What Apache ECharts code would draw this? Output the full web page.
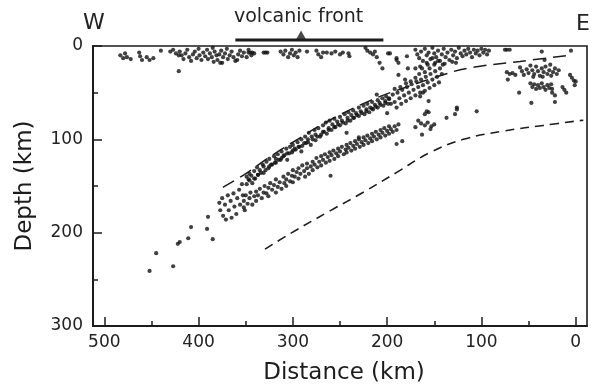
<!DOCTYPE html>
<html>
<head>
<meta charset="utf-8">
<script src="https://cdn.jsdelivr.net/npm/echarts@6/dist/echarts.min.js"></script>
<style>html,body{margin:0;padding:0;background:#fff}#c{width:597px;height:390px}</style>
</head>
<body>
<div id="c"></div>
<script>
// ---- data: [distance km, depth km] ----
const shallowBand = [
[483,10],[480,13],[478,8],[476,12],[472,14],[463,7],[462,11],[460,15],[455,12],[452,15],[448,13],[440,5],[430,6],[427,4],[424,8],[421,10],[421,27],
[420,6],[418,10],[416,14],[414,8],[412,4],[410,12],[408,16],[406,9],[404,6],[402,13],[400,3],[399,10],[397,15],[395,7],[393,11],[391,4],[390,14],[388,8],[386,12],[385,2],[383,6],[381,10],[380,15],[378,9],[376,5],[374,12],[372,8],[370,3],[369,14],[367,10],[365,6],[363,12],[361,16],[358,9],[356,5],[354,11],[352,7],[349,12],[347,4],[344,10],[341,8],[377,18],[384,17],[375,18],[359,15],
[347,7],[345,7],[343,7],[331,7],[329,7],[327,7],
[313,6],[310,9],[308,5],[305,12],[303,8],[301,4],[299,10],[297,7],[295,12],[293,5],
[285,6],[275,5],[273,9],[270,12],[268,7],[264,7],[259,8],[255,6],[250,9],[247,7],[241,8],[240,11],
[223,2],[221,5],[218,7],[215,9],[213,6],[199,8],[190,13],[188,18],[179,11],
[170,4],[168,9],[166,13],[164,6],[162,16],[160,3],[158,10],[156,7],[154,14],[152,2],[150,8],[148,12],[146,5],[144,16],[142,9],[140,3],[138,12],[136,7],[134,15],[132,4],[130,10],[128,6],[126,13],[124,2],[122,8],[120,11],[118,5],[116,9],[114,3],[112,7],[110,12],[108,4],[106,8],[104,5],[102,10],[100,3],[98,7],[96,4],[94,9],[92,5],[149,18],[139,19],[131,17],[157,20],[165,22],[127,18],
[73,4],[75,4],[70,4],[36,6],[33,15],[5,5]
];
const upperSlab = [
[378,168],[377,176],[375,163],[374,182],[372,170],[371,186],[369,160],[368,176],[366,166],[365,184],[363,158],[362,172],[360,180],[359,163],[357,154],[356,170],[354,148],[353,160],[351,176],
[349,140],[349,148],[347,143],[346,144],[346,137],[344,139],[343,147],[341,134],[341,142],[340,142],[338,130],[337,138],[337,138],[335,133],[334,136],[332,127],[331,136],[331,129],[329,133],[328,124],[326,131],[325,121],[325,129],[323,127],[322,127],[320,118],[319,125],[318,125],[318,121],[316,116],[315,122],[313,122],[312,113],[312,120],[310,118],[309,117],[307,110],[306,115],[306,122],[304,115],[303,108],[301,114],[300,112],[300,106],[298,110],[297,111],[295,103],[294,108],[293,108],[291,100],[291,113],[290,107],[288,104],[287,97],[286,104],[284,103],[284,100],[283,93],[281,106],[280,97],[279,100],[277,90],[276,101],[276,95],[274,97],[273,88],[271,97],[270,95],[268,85],[268,92],[267,92],[265,82],[264,94],[262,88],[262,90],[261,80],[259,90],[258,84],[256,87],[256,78],[255,87],[253,81],[252,84],[250,76],[250,85],[248,80],[247,82],[245,73],[244,83],[242,77],[242,80],[241,71],[239,80],[238,74],[236,77],[236,69],[235,77],[233,72],[232,74],[230,66],[230,75],[228,70],[227,72],[225,64],[224,73],[222,68],[222,70],[221,62],[219,71],[218,66],[216,67],[216,60],[215,68],[213,63],[212,65],[210,58],[210,66],[208,61],[207,63],[205,56],[204,64],[202,59],[202,61],[201,54],[199,62],[198,57],
[230,98],[200,72],[243,93],[211,52]
];
const lowerSlab = [
[352,166],[352,173],[350,160],[348,169],[346,163],[345,157],[343,170],[341,161],[339,156],[339,166],[337,160],[335,153],[333,163],[331,157],[330,150],[328,158],[326,152],[326,161],[324,147],[322,154],[320,149],[318,157],[318,143],[316,151],[314,146],[312,153],[310,140],[309,147],[307,143],[307,150],[305,137],[303,145],[301,139],[300,133],[300,146],[298,140],[296,135],[294,131],[294,142],[292,137],[290,128],[288,134],[287,140],[285,126],[285,131],[283,137],[281,129],[279,124],[279,133],[277,127],[275,120],[274,130],[272,124],[270,118],[270,128],[268,122],[266,116],[265,125],[263,119],[261,114],[261,123],[259,117],[257,112],[256,121],[254,115],[252,110],[252,118],[250,113],[248,108],[246,116],[244,111],[243,106],[243,114],[241,109],[239,104],[238,112],[236,107],[234,102],[234,110],[232,105],[230,100],[229,108],[227,103],[225,98],[225,106],[223,101],[221,96],[220,104],[218,99],[216,94],[216,102],[214,97],[212,92],[211,100],[209,95],[207,90],[207,98],[205,93],[203,88],[202,96],[200,91],[198,86],[198,94],[196,89],[194,92],[192,86],[190,90],[188,84],
[190,105],[184,102],[260,139]
];
const transitionZone = [
[198,56],[196,62],[194,52],[192,60],[190,66],[189,50],[187,56],[185,62],[184,47],[182,53],[180,59],[179,44],[177,50],[175,56],[174,41],[172,47],[170,53],[169,38],[167,44],[165,50],[164,36],[162,42],[160,48],[159,33],[157,39],[155,45],[154,30],[152,36],[150,42],[149,27],[147,33],[145,39],[144,24],[142,30],[150,20],[155,24],[160,28],[146,16],[152,13],[158,18],[163,24],[141,20],[166,30],[170,34],[175,38],[180,40],[186,44],[192,46],
[188,31],[181,36],[178,24],[170,24],[190,15],[197,8],[211,12],[208,18],[205,24],
[167,80],[164,83],[160,85],[157,82],[153,86],[150,84],[170,87],[163,95],[154,89],[156,71],[158,70],[160,73],[156,59],[165,54],[162,50],
[137,77],[128,73],[126,68],[105,70],[126,66]
];
const eastCluster = [
[73,28],[70,30],[67,29],[64,31],[59,23],[57,27],[55,31],[52,25],[50,29],
[48,21],[46,26],[44,30],[42,22],[40,27],[38,32],[36,24],[34,28],[32,22],[30,30],[28,26],[26,32],[24,28],[22,24],[20,30],[18,26],[45,33],[35,33],[27,20],
[6,31],[4,34],[2,37],[0,38],[72,36],
[48,40],[46,44],[44,41],[42,46],[40,42],[38,45],[36,40],[34,44],[32,47],[30,42],[28,45],[26,41],
[25,46],[25,50],[14,44],[12,47],[10,50],[60,50],[22,53],[22,60],[47,61],[1,42]
];
const deepEvents = [
[390,183],[408,194],[391,196],[411,206],[420,210],[422,212],[385,207],[445,222],[427,236],[452,241]
];
const upperDashed = [[374.3,151.4],[350.7,137.2],[324.2,118.6],[292.4,98.4],[260.6,79.3],[218.1,58.5],[183.1,45.2],[140.7,30.9],[115.3,23.9],[59.1,16.5],[2.9,9.6]];
const lowerDashed = [[329.5,217.6],[303,201.1],[260.6,176.6],[225.2,156.7],[189.8,135.4],[154.5,114.1],[119.2,100],[76.8,91.2],[34.4,85.1],[-8.1,79.5]];
const volcanicFrontBar = [[361,-6.4],[204,-6.4]];
const volcanicFrontPeak = [[291.3,-11.7]];
const xMajorTicks = [0,100,200,300,400,500];
const xMinorTicks = [50,150,250,350,450];

const FONT = 'DejaVu Sans';
const INK = '#1c1c1c';
const chart = echarts.init(document.getElementById('c'), null, {renderer:'canvas'});

const dots = (data) => ({
  type:'scatter', data, symbolSize:4.2, silent:true,
  itemStyle:{color:'#111'}, animation:false
});

chart.setOption({
  animation:false,
  grid:{left:93, right:10, top:46, bottom:62, show:true, borderColor:INK, borderWidth:1.6, backgroundColor:'transparent'},
  xAxis:[{
    type:'value', inverse:true, min:-12, max:512, position:'bottom',
    name:'Distance (km)', nameLocation:'middle', nameGap:36,
    nameTextStyle:{fontFamily:FONT, fontSize:23, color:INK, padding:[0,0,0,8]},
    axisLine:{show:true, onZero:false, lineStyle:{color:INK, width:2}},
    axisTick:{show:true, inside:true, length:9, customValues:xMajorTicks, lineStyle:{color:INK, width:1.5}},
    axisLabel:{show:true, customValues:xMajorTicks, margin:8, fontFamily:FONT, fontSize:17, color:'#222'},
    splitLine:{show:false}
  },{
    type:'value', inverse:true, min:-12, max:512, position:'bottom',
    axisLine:{show:false, onZero:false},
    axisTick:{show:true, inside:true, length:5, customValues:xMinorTicks, lineStyle:{color:INK, width:1.5}},
    axisLabel:{show:false}, splitLine:{show:false}
  }],
  yAxis:{
    type:'value', inverse:true, min:0, max:300, interval:100, position:'left',
    name:'Depth (km)', nameLocation:'middle', nameGap:56, nameRotate:90,
    nameTextStyle:{fontFamily:FONT, fontSize:23, color:INK},
    axisLine:{show:true, onZero:false, lineStyle:{color:INK, width:2}},
    axisTick:{show:true, inside:true, length:9, lineStyle:{color:INK, width:1.5}},
    minorTick:{show:true, splitNumber:2, length:5, lineStyle:{color:INK, width:1.5}},
    axisLabel:{margin:10, fontFamily:FONT, fontSize:17, color:'#222'},
    splitLine:{show:false}, minorSplitLine:{show:false}
  },
  series:[
    {type:'line', data:upperDashed, smooth:0.4, showSymbol:false, silent:true,
     lineStyle:{color:INK, width:1.5, type:[13,7]}},
    {type:'line', data:lowerDashed, smooth:0.4, showSymbol:false, silent:true,
     lineStyle:{color:INK, width:1.6, type:[9,6]}},
    dots(shallowBand), dots(upperSlab), dots(lowerSlab), dots(transitionZone), dots(eastCluster), dots(deepEvents),
    {type:'line', data:volcanicFrontBar, showSymbol:false, clip:false, silent:true,
     lineStyle:{color:INK, width:3}},
    {type:'scatter', data:volcanicFrontPeak, symbol:'triangle', symbolSize:[10,9], clip:false, silent:true,
     itemStyle:{color:INK}}
  ],
  graphic:[
    {type:'text', left:83, top:12, style:{text:'W', font:'22px "DejaVu Sans"', fill:'#222'}},
    {type:'text', left:576, top:13, style:{text:'E', font:'22px "DejaVu Sans"', fill:'#222'}},
    {type:'text', left:234, top:8, style:{text:'volcanic front', font:'19px "DejaVu Sans"', fill:'#222'}}
  ]
});
</script>
</body>
</html>
